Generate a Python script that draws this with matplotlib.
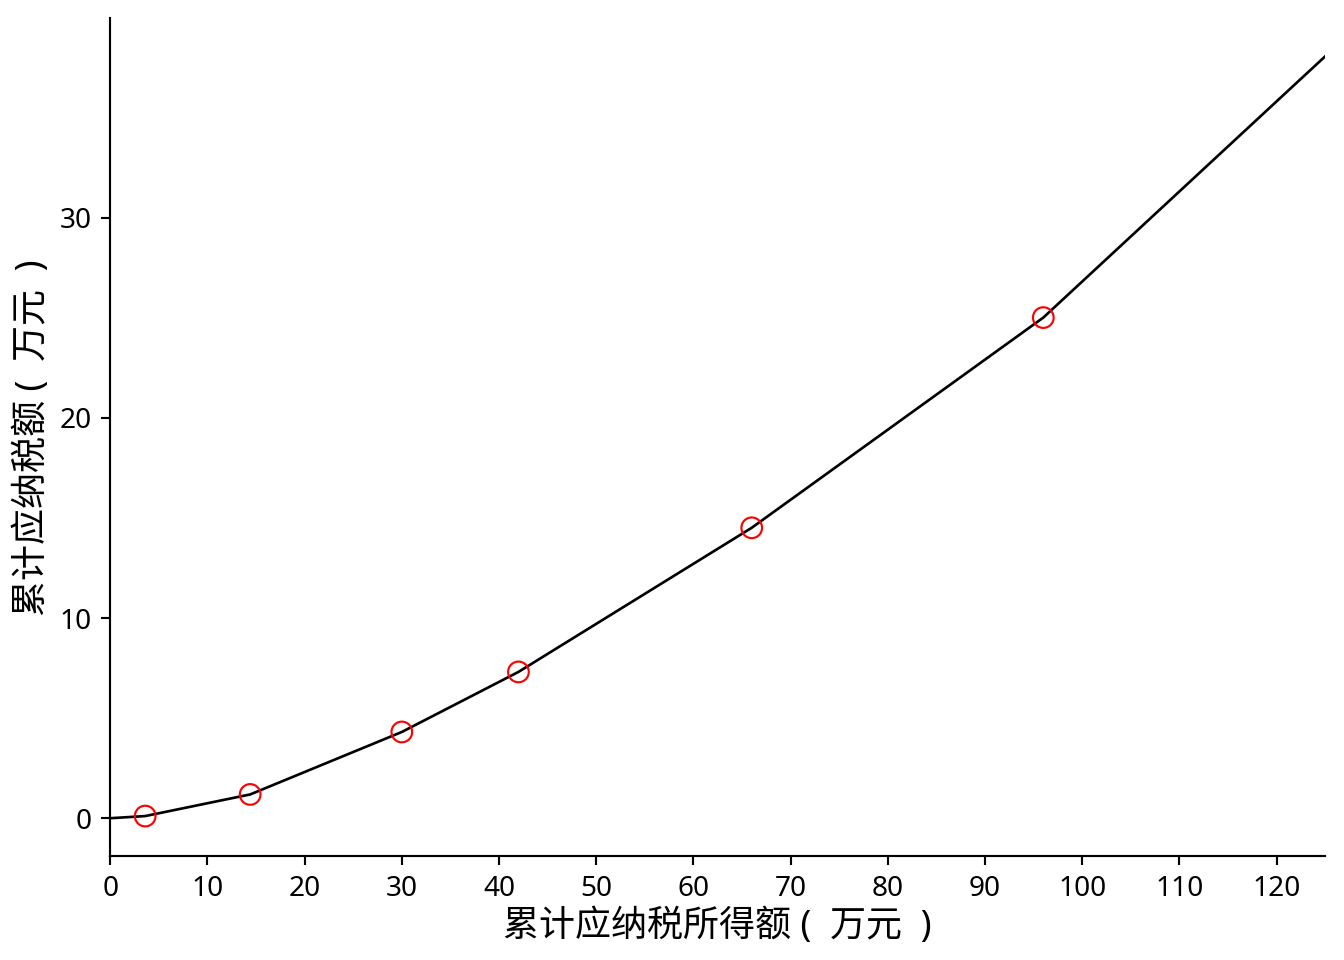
import matplotlib
matplotlib.use("Agg")
import matplotlib.pyplot as plt

plt.rcParams['font.family'] = ['Noto Sans', 'Noto Sans CJK SC', 'DejaVu Sans']
plt.rcParams['axes.unicode_minus'] = False

# 累计应纳税所得额 (万元) 与 累计应纳税额 (万元)
income = [0, 3.6, 14.4, 30, 42, 66, 96, 125]
tax = [0, 0.108, 1.188, 4.308, 7.308, 14.508, 25.008, 38.058]

# 各档临界点
brk_income = [3.6, 14.4, 30, 42, 66, 96]
brk_tax = [0.108, 1.188, 4.308, 7.308, 14.508, 25.008]

fig, ax = plt.subplots(figsize=(7, 5), dpi=192)
fig.subplots_adjust(left=0.082, right=0.986, bottom=0.108, top=0.981)

ax.plot(income, tax, color='black', linewidth=1)
ax.scatter(brk_income, brk_tax, s=60, facecolors='none', edgecolors='red', linewidths=0.8, zorder=3)

ax.set_xlim(0, 125)
ax.set_xticks(range(0, 121, 10))
ax.set_yticks([0, 10, 20, 30])
ax.tick_params(labelsize=10.5)
ax.spines['top'].set_visible(False)
ax.spines['right'].set_visible(False)

ax.set_xlabel('累计应纳税所得额 (  万元  )', fontsize=13.5, labelpad=2)
ax.set_ylabel('累计应纳税额 (  万元  )', fontsize=13.5, labelpad=3)

fig.savefig('out.png')
